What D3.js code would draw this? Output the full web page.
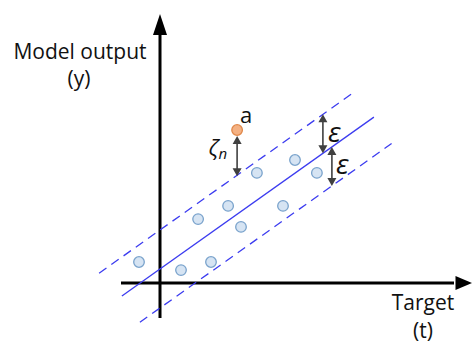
<!DOCTYPE html>
<html>
<head>
<meta charset="utf-8">
<script src="https://cdn.jsdelivr.net/npm/d3@7"></script>
<style>
  html, body { margin: 0; padding: 0; background: #fff; }
  svg { display: block; }
  text { font-family: "Open Sans", "Noto Sans", sans-serif; fill: #111; }
</style>
</head>
<body>
<svg id="chart" width="473" height="345"></svg>
<script>
// Training samples (target t, model output y)
const sampleT = [-0.70, 0.70, 1.70, 1.27, 2.27, 2.70, 4.10, 3.23, 4.50, 5.23];
const sampleY = [ 0.70, 0.43, 0.70, 2.13, 2.57, 1.87, 2.57, 3.67, 4.10, 3.67];
// Outlier sample "a"
const outlierT = [2.57];
const outlierY = [5.10];
// Regression line y = intercept + slope * t, with an epsilon-insensitive tube
const slope = 0.71;
const intercept = 0.467;
const epsilon = 1.3;
const centerRange = [-1.27, 7.13];
const upperRange = [-2.03, 6.37];
const lowerRange = [-0.67, 7.72];
// Positions of the epsilon markers along t
const epsT = [5.43, 5.73];

const svg = d3.select("#chart");
const x = d3.scaleLinear().domain([0, 10]).range([160, 460]);
const y = d3.scaleLinear().domain([0, 10]).range([283, -17]);
const f = t => intercept + slope * t;

// Axes
const axisColor = "#000";
svg.append("line").attr("x1", x(-1.3)).attr("x2", x(9.8)).attr("y1", y(0)).attr("y2", y(0))
  .attr("stroke", axisColor).attr("stroke-width", 3);
svg.append("path")
  .attr("d", `M${x(10.4)},${y(0)} L${x(9.85)},${y(0) - 7} L${x(9.85)},${y(0) + 7} Z`)
  .attr("fill", axisColor);
svg.append("line").attr("x1", x(0)).attr("x2", x(0)).attr("y1", y(-1.17)).attr("y2", y(8.3))
  .attr("stroke", axisColor).attr("stroke-width", 3);
svg.append("path")
  .attr("d", `M${x(0)},${y(8.97)} L${x(0) - 7},${y(8.27)} L${x(0) + 7},${y(8.27)} Z`)
  .attr("fill", axisColor);

// Regression line and tube
const blue = "#3c3cf0";
svg.append("line")
  .attr("x1", x(centerRange[0])).attr("y1", y(f(centerRange[0])))
  .attr("x2", x(centerRange[1])).attr("y2", y(f(centerRange[1])))
  .attr("stroke", blue).attr("stroke-width", 1.3);
svg.append("line")
  .attr("x1", x(upperRange[0])).attr("y1", y(f(upperRange[0]) + epsilon))
  .attr("x2", x(upperRange[1])).attr("y2", y(f(upperRange[1]) + epsilon))
  .attr("stroke", blue).attr("stroke-width", 1.3).attr("stroke-dasharray", "9,6");
svg.append("line")
  .attr("x1", x(lowerRange[0])).attr("y1", y(f(lowerRange[0]) - epsilon))
  .attr("x2", x(lowerRange[1])).attr("y2", y(f(lowerRange[1]) - epsilon))
  .attr("stroke", blue).attr("stroke-width", 1.3).attr("stroke-dasharray", "9,6");

// Double-headed arrow helper (vertical)
const arrowColor = "#404040";
function vArrow(px, yTop, yBot) {
  const h = 8, w = 4.5;
  svg.append("line").attr("x1", px).attr("x2", px).attr("y1", yTop + h - 1).attr("y2", yBot - h + 1)
    .attr("stroke", arrowColor).attr("stroke-width", 1.6);
  svg.append("path").attr("d", `M${px},${yTop} L${px - w},${yTop + h} L${px + w},${yTop + h} Z`)
    .attr("fill", arrowColor);
  svg.append("path").attr("d", `M${px},${yBot} L${px - w},${yBot - h} L${px + w},${yBot - h} Z`)
    .attr("fill", arrowColor);
}

// Epsilon markers
const mathFont = "'Liberation Serif', serif";
vArrow(x(epsT[0]), y(f(epsT[0]) + epsilon), y(f(epsT[0])));
vArrow(x(epsT[1]), y(f(epsT[1])), y(f(epsT[1]) - epsilon));
svg.append("text").attr("x", x(epsT[0]) + 5).attr("y", y(f(epsT[0]) + epsilon / 2) + 8)
  .attr("font-family", mathFont).attr("font-style", "italic")
  .attr("font-size", 28).text("ε");
svg.append("text").attr("x", x(epsT[1]) + 4).attr("y", y(f(epsT[1]) - epsilon / 2) + 8)
  .attr("font-family", mathFont).attr("font-style", "italic")
  .attr("font-size", 28).text("ε");

// Slack marker for the outlier
vArrow(x(outlierT[0]), y(outlierY[0]) + 6, y(f(outlierT[0]) + epsilon) + 1);
const zeta = svg.append("text").attr("x", x(outlierT[0]) - 10).attr("y", y(outlierY[0] - 0.85))
  .attr("text-anchor", "end")
  .attr("font-family", mathFont).attr("font-style", "italic").attr("font-size", 22);
zeta.append("tspan").text("ζ");
zeta.append("tspan").attr("font-size", 15).attr("dy", 3).text("n");

// Samples
svg.selectAll("circle.sample").data(d3.range(sampleT.length)).join("circle")
  .attr("class", "sample")
  .attr("cx", i => x(sampleT[i])).attr("cy", i => y(sampleY[i])).attr("r", 5.3)
  .attr("fill", "#d6e4f3").attr("stroke", "#7aa3cc").attr("stroke-width", 1.3);
svg.selectAll("circle.outlier").data(d3.range(outlierT.length)).join("circle")
  .attr("class", "outlier")
  .attr("cx", i => x(outlierT[i])).attr("cy", i => y(outlierY[i])).attr("r", 5.3)
  .attr("fill", "#f4b183").attr("stroke", "#e0884a").attr("stroke-width", 1.3);
svg.append("text").attr("x", x(outlierT[0]) + 3).attr("y", y(outlierY[0]) - 7)
  .attr("font-size", 22).attr("fill", "#000").text("a");

// Axis titles
svg.append("text").attr("x", 80).attr("y", 59).attr("text-anchor", "middle")
  .attr("font-size", 21).text("Model output");
svg.append("text").attr("x", 79).attr("y", 86).attr("text-anchor", "middle")
  .attr("font-size", 21).text("(y)");
svg.append("text").attr("x", 423).attr("y", 310).attr("text-anchor", "middle")
  .attr("font-size", 21).text("Target");
svg.append("text").attr("x", 423).attr("y", 338).attr("text-anchor", "middle")
  .attr("font-size", 21).text("(t)");
</script>
</body>
</html>
